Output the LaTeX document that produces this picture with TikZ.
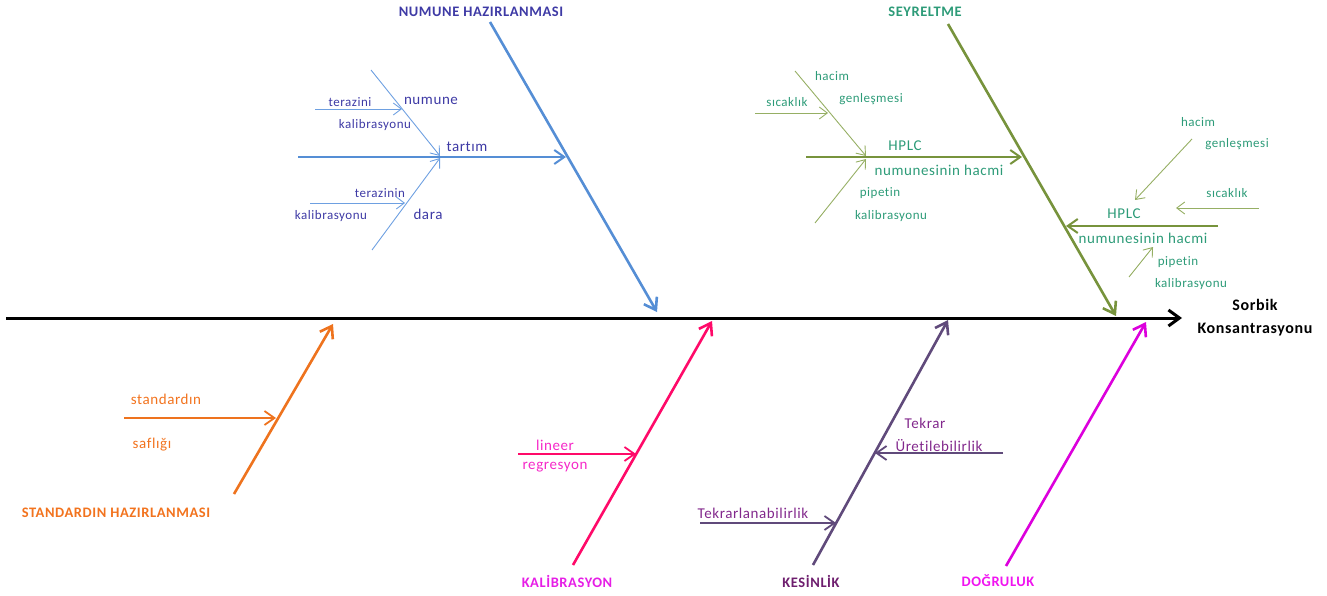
\documentclass[tikz,border=0pt]{standalone}
\usepackage{fontspec}
\setmainfont{Carlito}[LetterSpace=4, Ligatures={NoCommon}]
\usetikzlibrary{arrows.meta}

% line colours
\definecolor{blueLn}{RGB}{85,142,213}
\definecolor{blueSub}{RGB}{110,160,225}
\definecolor{greenLn}{RGB}{119,147,60}
\definecolor{greenSub}{RGB}{150,175,100}
\definecolor{orangeLn}{RGB}{238,115,30}
\definecolor{pinkLn}{RGB}{255,10,105}
\definecolor{purpleLn}{RGB}{96,74,123}
\definecolor{magentaLn}{RGB}{220,0,220}
% text colours
\definecolor{blueTx}{RGB}{62,58,165}
\definecolor{greenTx}{RGB}{45,155,120}
\definecolor{orangeTx}{RGB}{242,115,30}
\definecolor{pinkTx}{RGB}{245,40,200}
\definecolor{kalTx}{RGB}{230,30,230}
\definecolor{purpleTx}{RGB}{130,40,140}
\definecolor{kesTx}{RGB}{110,30,110}
\definecolor{dogTx}{RGB}{240,20,240}

\tikzset{
  spine/.style={line width=3pt, -{Straight Barb[length=11pt,width=16pt]}},
  bone/.style={line width=2.6pt, -{Straight Barb[length=11pt,width=15pt]}},
  midbone/.style={line width=2pt, -{Straight Barb[length=10pt,width=14pt]}},
  subbone/.style={line width=0.9pt, -{Straight Barb[length=8pt,width=12pt]}},
  small/.style={inner sep=0pt, font=\fontsize{13}{15}\selectfont},
  medium/.style={inner sep=0pt, font=\fontsize{15}{18}\selectfont},
  title/.style={inner sep=0pt, font=\bfseries\fontsize{14.5}{17}\selectfont},
}

\begin{document}
\begin{tikzpicture}[x=1pt,y=-1pt]
\useasboundingbox (0,0) rectangle (1327,596);

% ---- spine ----
\coordinate (s0) at (6,318);
\coordinate (s1) at (1182,318);
\draw[spine] (s0) -- (s1);
\node[inner sep=0pt, align=center, font=\bfseries\fontsize{16}{23}\selectfont] (effect) at (1255,318) {Sorbik\\Konsantrasyonu};

% ---- main bones ----
\coordinate (nA) at (490,22);   \coordinate (nB) at (657,312);
\coordinate (sA) at (948,24);   \coordinate (sB) at (1116,316);
\coordinate (oA) at (234,494);  \coordinate (oB) at (333,324);
\coordinate (kA) at (573,565);  \coordinate (kB) at (712,321);
\coordinate (eA) at (813,565);  \coordinate (eB) at (948,320);
\coordinate (dA) at (1006,566); \coordinate (dB) at (1146,322);
\draw[bone, blueLn]    (nA) -- (nB);
\draw[bone, greenLn]   (sA) -- (sB);
\draw[bone, orangeLn]  (oA) -- (oB);
\draw[bone, pinkLn]    (kA) -- (kB);
\draw[bone, purpleLn]  (eA) -- (eB);
\draw[bone, magentaLn] (dA) -- (dB);

% ---- category titles ----
\node[title, text=blueTx]   (tNum) at (481,12)  {NUMUNE HAZIRLANMASI};
\node[title, text=greenTx]  (tSey) at (925,12)  {SEYRELTME};
\node[title, text=orangeTx] (tSta) at (116,513) {STANDARDIN HAZIRLANMASI};
\node[title, text=kalTx]    (tKal) at (567,581) {KALİBRASYON};
\node[title, text=kesTx]    (tKes) at (811,581) {KESİNLİK};
\node[title, text=dogTx]    (tDog) at (998,581) {DOĞRULUK};

% ---- numune hazırlanması ----
\coordinate (tA) at (298,157);  \coordinate (tB) at (566,157);
\coordinate (nuA) at (371,70);  \coordinate (nuB) at (440,156);
\coordinate (daA) at (372,250); \coordinate (daB) at (440,158);
\coordinate (tz1A) at (315,109); \coordinate (tz1B) at (402,109);
\coordinate (tz2A) at (310,203); \coordinate (tz2B) at (405,203);
\draw[midbone, blueLn] (tA) -- (tB);
\draw[subbone, blueSub] (nuA) -- (nuB);
\draw[subbone, blueSub] (daA) -- (daB);
\draw[subbone, blueSub] (tz1A) -- (tz1B);
\draw[subbone, blueSub] (tz2A) -- (tz2B);
\node[medium, text=blueTx] (lTar) at (467,147) {tartım};
\node[medium, text=blueTx] (lNum) at (431,101) {numune};
\node[medium, text=blueTx] (lDar) at (428,214) {dara};
\node[small, text=blueTx] (lTz1) at (350,102) {terazini};
\node[small, text=blueTx] (lKa1) at (375,125) {kalibrasyonu};
\node[small, text=blueTx] (lTz2) at (380,193) {terazinin};
\node[small, text=blueTx] (lKa2) at (331,216) {kalibrasyonu};

% ---- seyreltme, upper branch ----
\coordinate (hA) at (806,157);  \coordinate (hB) at (1022,157);
\coordinate (hgA) at (795,71);  \coordinate (hgB) at (866,156);
\coordinate (pA) at (815,223);  \coordinate (pB) at (866,159);
\coordinate (scA) at (755,113); \coordinate (scB) at (828,113);
\draw[midbone, greenLn] (hA) -- (hB);
\draw[subbone, greenSub] (hgA) -- (hgB);
\draw[subbone, greenSub] (pA) -- (pB);
\draw[subbone, greenSub] (scA) -- (scB);
\node[small, text=greenTx] (gH1) at (832,76)  {hacim};
\node[small, text=greenTx] (gG1) at (871,99)  {genleşmesi};
\node[small, text=greenTx] (gS1) at (787,102) {sıcaklık};
\node[medium, text=greenTx] (gP1) at (905,146) {HPLC};
\node[medium, text=greenTx] (gN1) at (939,170) {numunesinin hacmi};
\node[small, text=greenTx] (gPi1) at (880,193) {pipetin};
\node[small, text=greenTx] (gK1) at (891,216) {kalibrasyonu};

% ---- seyreltme, lower branch ----
\coordinate (h2A) at (1218,226); \coordinate (h2B) at (1066,226);
\coordinate (hg2A) at (1192,139); \coordinate (hg2B) at (1135,200);
\coordinate (sc2A) at (1259,208); \coordinate (sc2B) at (1176,208);
\coordinate (p2A) at (1129,277);  \coordinate (p2B) at (1153,247);
\draw[midbone, greenLn] (h2A) -- (h2B);
\draw[subbone, greenSub] (hg2A) -- (hg2B);
\draw[subbone, greenSub] (sc2A) -- (sc2B);
\draw[subbone, greenSub] (p2A) -- (p2B);
\node[small, text=greenTx] (gH2) at (1198,122) {hacim};
\node[small, text=greenTx] (gG2) at (1237,144) {genleşmesi};
\node[small, text=greenTx] (gS2) at (1227,193) {sıcaklık};
\node[medium, text=greenTx] (gP2) at (1124,214) {HPLC};
\node[medium, text=greenTx] (gN2) at (1143,238) {numunesinin hacmi};
\node[small, text=greenTx] (gPi2) at (1178,262) {pipetin};
\node[small, text=greenTx] (gK2) at (1191,284) {kalibrasyonu};

% ---- standardın hazırlanması ----
\coordinate (stA) at (124,418); \coordinate (stB) at (276,418);
\draw[midbone, orangeLn, line width=1.8pt] (stA) -- (stB);
\node[medium, text=orangeTx] (oS1) at (166,399) {standardın};
\node[medium, text=orangeTx] (oS2) at (152,445) {saflığı};

% ---- kalibrasyon ----
\coordinate (lrA) at (518,454); \coordinate (lrB) at (636,454);
\draw[midbone, pinkLn, line width=1.8pt] (lrA) -- (lrB);
\node[medium, text=pinkTx] (pL1) at (555,445) {lineer};
\node[medium, text=pinkTx] (pL2) at (555,467) {regresyon};

% ---- kesinlik ----
\coordinate (trA) at (700,523);  \coordinate (trB) at (836,523);
\coordinate (tuA) at (1003,453); \coordinate (tuB) at (875,453);
\draw[midbone, purpleLn, line width=1.8pt] (trA) -- (trB);
\draw[midbone, purpleLn, line width=1.8pt] (tuA) -- (tuB);
\node[medium, text=purpleTx] (uT1) at (753,513) {Tekrarlanabilirlik};
\node[medium, text=purpleTx] (uT2) at (925,423) {Tekrar};
\node[medium, text=purpleTx] (uT3) at (939,446) {Üretilebilirlik};
\end{tikzpicture}
\end{document}
